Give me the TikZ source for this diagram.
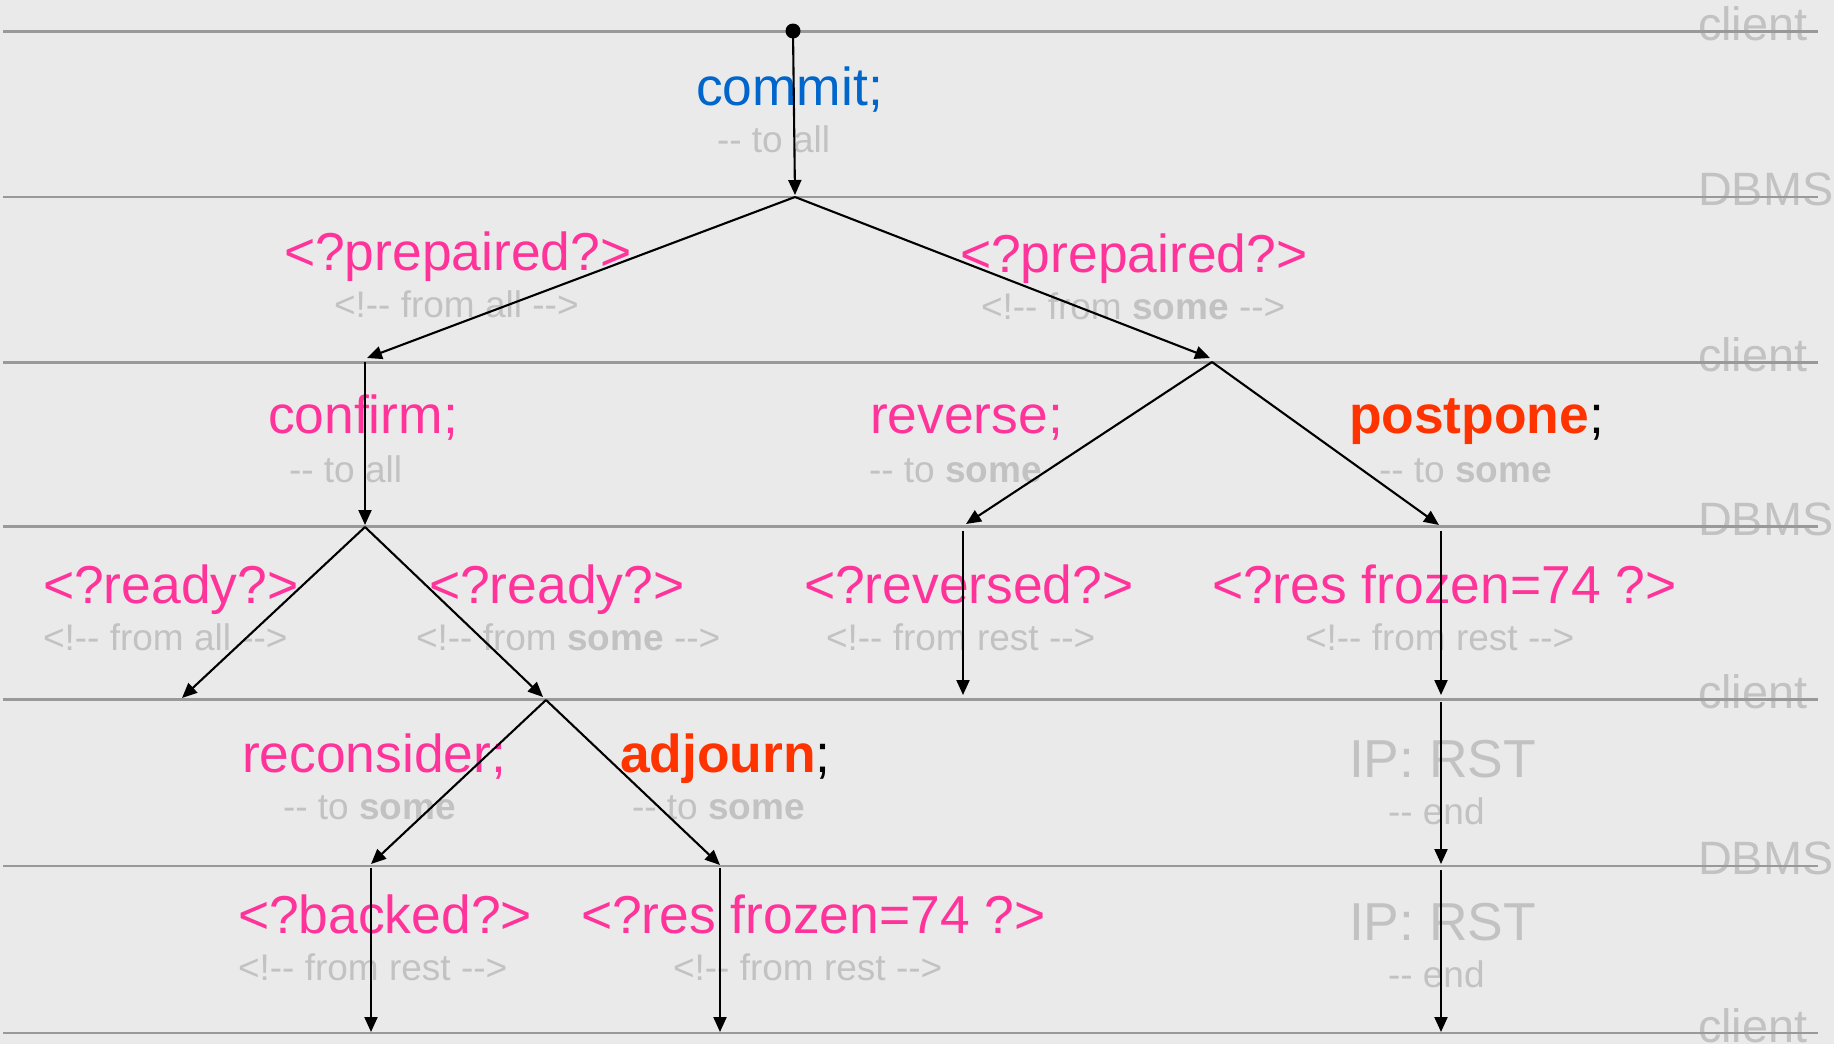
\documentclass[tikz,border=0pt]{standalone}
\usepackage{fontspec}
\newfontfamily\lab{Liberation Sans}
\usetikzlibrary{arrows.meta}
\definecolor{bg}{HTML}{EAEAEA}
\definecolor{pinkc}{HTML}{FF3399}
\definecolor{hotc}{HTML}{FF3300}
\definecolor{bluc}{HTML}{0066CC}
\definecolor{txtgray}{HTML}{C2C2C2}
\definecolor{lanec}{HTML}{999999}
\begin{document}
\begin{tikzpicture}[x=1pt,y=-1pt,
  every node/.style={inner sep=0pt, outer sep=0pt, anchor=base west},
  mainlbl/.style={font=\lab\fontsize{53.4}{60}\selectfont, text=pinkc},
  sublbl/.style={font=\lab\fontsize{37}{42}\selectfont, text=txtgray},
  lanelbl/.style={font=\lab\fontsize{46.8}{52}\selectfont, text=txtgray},
  laneline/.style={draw=lanec, line width=2.4pt},
  arr/.style={draw=black, line width=2.1pt, -{Triangle[length=15pt,width=13pt]}},
]
\fill[bg] (0,0) rectangle (1834,1044);
\useasboundingbox (0,0) rectangle (1834,1044);

% lane labels
\node[lanelbl] (l1) at (1698,40) {client};
\node[lanelbl] (l2) at (1698,205) {DBMS};
\node[lanelbl] (l3) at (1698,371) {client};
\node[lanelbl] (l4) at (1698,535) {DBMS};
\node[lanelbl] (l5) at (1698,708) {client};
\node[lanelbl] (l6) at (1698,874) {DBMS};
\node[lanelbl] (l7) at (1698,1042) {client};

% main labels
\node[mainlbl, text=bluc] (commit) at (696,105) {commit;};
\node[sublbl] (commits) at (717,152) {-- to all};

\node[mainlbl] (prepL) at (284,270) {<?prepaired?>};
\node[sublbl] (prepLs) at (334,317) {<!-- from all -->};
\node[mainlbl] (prepR) at (960,272) {<?prepaired?>};
\node[sublbl] (prepRs) at (981,319) {<!-- from \textbf{some} -->};

\node[mainlbl] (confirm) at (268,433) {confirm;};
\node[sublbl] (confirms) at (289,482) {-- to all};
\node[mainlbl] (reverse) at (870,433) {reverse;};
\node[sublbl] (reverses) at (869,482) {-- to \textbf{some}};
\node[mainlbl, text=black] (postpone) at (1349,433) {\textcolor{hotc}{\bfseries postpone};};
\node[sublbl] (postpones) at (1379,482) {-- to \textbf{some}};

\node[mainlbl] (readyL) at (43,603) {<?ready?>};
\node[sublbl] (readyLs) at (43,650) {<!-- from all -->};
\node[mainlbl] (readyM) at (429,603) {<?ready?>};
\node[sublbl] (readyMs) at (416,650) {<!-- from \textbf{some} -->};
\node[mainlbl] (reversed) at (804,603) {<?reversed?>};
\node[sublbl] (reverseds) at (826,650) {<!-- from rest -->};
\node[mainlbl] (frozA) at (1212,603) {<?res frozen=74 ?>};
\node[sublbl] (frozAs) at (1305,650) {<!-- from rest -->};

\node[mainlbl] (reconsider) at (242,772) {reconsider;};
\node[sublbl] (reconsiders) at (283,819) {-- to \textbf{some}};
\node[mainlbl, text=black] (adjourn) at (620,772) {\textcolor{hotc}{\bfseries adjourn};};
\node[sublbl] (adjourns) at (632,819) {-- to \textbf{some}};
\node[mainlbl, text=txtgray] (rstA) at (1349,777) {IP: RST};
\node[sublbl] (rstAs) at (1388,824) {-- end};

\node[mainlbl] (backed) at (238,933) {<?backed?>};
\node[sublbl] (backeds) at (238,980) {<!-- from rest -->};
\node[mainlbl] (frozB) at (581,933) {<?res frozen=74 ?>};
\node[sublbl] (frozBs) at (673,980) {<!-- from rest -->};
\node[mainlbl, text=txtgray] (rstB) at (1349,940) {IP: RST};
\node[sublbl] (rstBs) at (1388,987) {-- end};

% lane lines
\foreach \yy in {31.5,197,362.5,526.5,699.5,866,1033}
  \draw[laneline] (3,\yy) -- (1818,\yy);

% junction coordinates
\coordinate (t0) at (793,31);
\coordinate (c1) at (795,197);
\coordinate (c1e) at (795,195);
\coordinate (pL) at (367,358);
\coordinate (pR) at (1210,358);
\coordinate (cfs) at (365,362);
\coordinate (cfe) at (365,525);
\coordinate (ps) at (1212,362);
\coordinate (rve) at (966,524);
\coordinate (ppe) at (1439,525);
\coordinate (rds) at (365,527);
\coordinate (rdL) at (182,698);
\coordinate (rdM) at (543,697);
\coordinate (rvs) at (963,531);
\coordinate (rvd) at (963,695);
\coordinate (fzs) at (1441,531);
\coordinate (fze) at (1441,695);
\coordinate (rcs) at (546,700);
\coordinate (rce) at (371,864);
\coordinate (ade) at (720,865);
\coordinate (ip1s) at (1441,702);
\coordinate (ip1e) at (1441,864);
\coordinate (bks) at (371,868);
\coordinate (bke) at (371,1032);
\coordinate (fbs) at (720,868);
\coordinate (fbe) at (720,1032);
\coordinate (ip2s) at (1441,870);
\coordinate (ip2e) at (1441,1032);

\fill[black] (t0) circle (7.5pt);
\draw[arr] (t0) -- (c1e);
\draw[arr] (c1) -- (pL);
\draw[arr] (c1) -- (pR);
\draw[arr] (cfs) -- (cfe);
\draw[arr] (ps) -- (rve);
\draw[arr] (ps) -- (ppe);
\draw[arr] (rds) -- (rdL);
\draw[arr] (rds) -- (rdM);
\draw[arr] (rvs) -- (rvd);
\draw[arr] (fzs) -- (fze);
\draw[arr] (rcs) -- (rce);
\draw[arr] (rcs) -- (ade);
\draw[arr] (ip1s) -- (ip1e);
\draw[arr] (bks) -- (bke);
\draw[arr] (fbs) -- (fbe);
\draw[arr] (ip2s) -- (ip2e);
\end{tikzpicture}
\end{document}
